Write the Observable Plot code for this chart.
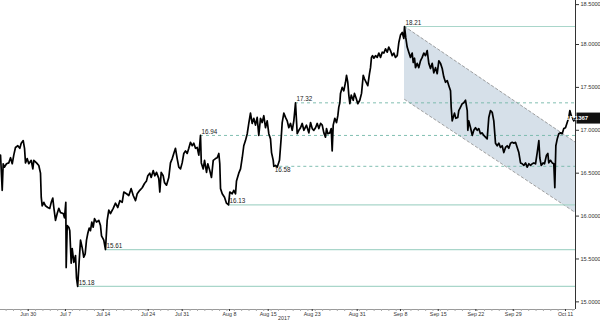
<!DOCTYPE html>
<html><head><meta charset="utf-8">
<script src="https://cdn.jsdelivr.net/npm/d3@7"></script>
<script src="https://cdn.jsdelivr.net/npm/@observablehq/plot@0.6"></script>
<style>
html,body{margin:0;padding:0;background:#fff;}
#chart svg{display:block;}
</style></head><body><div id="chart"></div>
<script>
// x = trading sessions counted from Jun 30, 2017
const sessionT = [
-3.76,-3.53,-3.40,-3.22,-2.95,-2.64,-2.40,-2.17,-1.96,-1.73,-1.41,-1.14,-0.95,-0.68,-0.50,-0.37,-0.14,0.08,0.41,0.63,0.76,1.13,1.44,1.67,1.77,1.90,2.12,2.35,2.66,2.93,3.13,3.34,3.48,3.71,3.94,4.16,4.39,4.76,4.93,5.11,5.16,5.30,5.52,5.65,5.84,5.98,6.20,6.43,6.56,6.72,6.93,7.11,7.34,7.55,7.74,7.92,8.10,8.29,8.46,8.64,8.83,9.01,9.28,9.59,9.82,9.96,10.27,10.50,10.73,10.95,11.18,11.55,11.86,12.17,12.45,12.77,12.99,13.36,13.67,13.99,14.27,14.58,14.81,15.16,15.49,15.80,16.07,16.25,16.52,16.71,16.98,17.20,17.43,17.74,17.88,18.07,18.34,18.52,18.79,19.10,19.33,19.57,19.78,20.01,20.24,20.46,20.69,20.92,21.14,21.37,21.60,21.82,22.05,22.28,22.50,22.73,22.96,23.18,23.41,23.52,23.78,23.96,24.23,24.40,24.67,24.90,25.14,25.45,25.68,25.90,26.03,26.13,26.36,26.67,26.94,27.22,27.39,27.72,27.93,28.17,28.30,28.61,28.85,29.08,29.29,29.52,29.76,29.97,30.20,30.43,30.65,30.88,31.11,31.33,31.56,31.79,32.01,32.24,32.47,32.69,32.92,33.06,33.29,33.37,33.60,33.83,34.14,34.38,34.51,34.73,34.96,35.19,35.41,35.64,35.87,36.09,36.32,36.55,36.77,37.00,37.23,37.45,37.81,38.13,38.36,38.59,38.81,39.04,39.27,39.49,39.72,39.95,40.17,40.39,40.53,40.71,40.98,41.17,41.30,41.44,41.66,41.89,42.07,42.20,42.34,42.43,42.66,42.88,43.11,43.25,43.42,43.56,43.70,43.89,44.16,44.33,44.57,44.78,45.05,45.29,45.52,45.69,45.92,46.14,46.37,46.51,46.64,46.78,46.96,47.19,47.42,47.64,47.87,48.10,48.32,48.55,48.78,48.99,49.22,49.46,49.67,49.90,50.14,50.35,50.58,50.82,51.03,51.13,51.30,51.49,51.71,51.94,52.17,52.31,52.49,52.62,52.85,53.07,53.30,53.53,53.75,53.98,54.21,54.43,54.66,54.89,55.11,55.34,55.57,55.79,56.02,56.25,56.47,56.70,56.93,57.15,57.38,57.47,57.61,57.74,57.92,58.10,58.37,58.50,58.74,58.97,59.18,59.42,59.65,59.73,59.86,60.10,60.33,60.54,60.77,61.01,61.22,61.45,61.68,61.90,62.13,62.36,62.58,62.81,63.04,63.26,63.49,63.72,63.94,64.17,64.40,64.62,64.85,65.08,65.30,65.53,65.76,65.98,66.21,66.44,66.66,66.89,67.12,67.34,67.57,67.80,68.02,68.25,68.48,68.70,68.93,69.16,69.38,69.51,69.70,69.97,70.15,70.42,70.60,70.73,70.96,71.20,71.41,71.55,71.69,71.88,72.09,72.32,72.55,72.77,73.00,73.23,73.45,73.59,73.78,73.96,74.13,74.30
];
const price = [
16.71,16.30,16.61,16.57,16.61,16.62,16.68,16.61,16.71,16.80,16.82,16.79,16.85,16.88,16.79,16.62,16.67,16.61,16.65,16.55,16.65,16.62,16.59,16.50,16.22,16.12,16.16,16.12,16.10,16.09,16.16,16.21,16.10,15.95,16.03,16.09,16.04,16.03,15.98,16.16,15.40,15.89,15.87,15.83,15.45,15.62,15.46,15.54,15.28,15.18,15.48,15.72,15.63,15.52,15.56,15.72,15.80,15.86,15.83,15.93,15.87,15.97,15.93,15.95,15.89,15.77,15.72,15.61,15.95,16.07,16.03,16.09,16.15,16.10,16.18,16.16,16.28,16.26,16.24,16.32,16.24,16.18,16.26,16.30,16.33,16.38,16.41,16.47,16.50,16.45,16.53,16.47,16.51,16.44,16.28,16.51,16.47,16.39,16.36,16.45,16.62,16.67,16.73,16.79,16.67,16.57,16.55,16.62,16.73,16.76,16.73,16.79,16.86,16.82,16.85,16.79,16.80,16.71,16.94,16.62,16.55,16.65,16.51,16.61,16.53,16.45,16.65,16.67,16.68,16.73,16.61,16.32,16.26,16.22,16.15,16.13,16.28,16.26,16.30,16.26,16.41,16.50,16.55,16.68,16.82,16.88,16.96,17.08,17.20,17.08,17.14,17.06,17.15,16.94,17.14,17.09,17.17,17.03,17.11,16.96,16.90,16.74,16.65,16.58,16.59,16.57,16.65,16.92,17.09,17.20,17.15,17.11,17.03,17.08,17.00,17.11,17.32,16.96,17.00,17.03,17.08,17.00,17.06,16.97,17.09,17.02,17.00,17.03,17.08,17.02,17.08,17.06,16.97,16.92,17.02,16.96,16.97,17.02,16.76,17.06,17.14,17.09,17.17,17.27,17.32,17.43,17.50,17.46,17.56,17.64,17.56,17.41,17.31,17.41,17.35,17.43,17.37,17.31,17.35,17.43,17.64,17.60,17.56,17.52,17.66,17.73,17.85,17.87,17.84,17.87,17.85,17.90,17.85,17.91,17.90,17.95,17.91,17.97,17.93,17.87,17.90,17.85,17.87,18.02,18.11,18.14,18.07,18.21,18.08,17.97,17.91,17.85,17.90,17.79,17.84,17.73,17.78,17.73,17.81,17.85,17.90,17.87,17.93,17.78,17.72,17.78,17.67,17.73,17.66,17.81,17.78,17.72,17.62,17.56,17.58,17.52,17.46,17.27,17.11,17.15,17.20,17.14,17.15,17.23,17.27,17.31,17.32,17.35,17.23,17.00,17.11,17.03,16.94,17.00,17.03,17.00,17.02,16.96,16.97,16.94,16.92,16.90,17.15,17.23,17.21,17.11,16.85,16.82,16.85,16.80,16.82,16.74,16.80,16.82,16.79,16.85,16.86,16.85,16.86,16.80,16.74,16.62,16.61,16.59,16.62,16.57,16.61,16.59,16.61,16.62,16.61,16.74,16.88,16.68,16.59,16.62,16.61,16.71,16.73,16.62,16.65,16.62,16.61,16.33,16.82,16.90,16.96,16.97,16.96,17.02,17.03,17.09,17.15,17.23,17.17,17.14,17.11,17.1367
];
const xTickPos = [0, 5.07, 10.19, 16.30, 20.92, 27.35, 32.61, 38.59, 44.70, 50.58, 55.71, 60.82, 65.90, 73.0];
const xTickLabels = ["Jun 30","Jul 7","Jul 14","Jul 24","Jul 31","Aug 8","Aug 15","Aug 23","Aug 31","Sep 8","Sep 15","Sep 22","Sep 29","Oct 11"];
const yTicks = [15, 15.5, 16, 16.5, 17, 17.5, 18, 18.5];
const yearLabel = "2017";
const levelValues = [18.21, 17.32, 16.94, 16.58, 16.13, 15.61, 15.18];
const levelStarts = [51.13, 36.32, 23.41, 33.37, 27.22, 10.50, 6.72];
const dashedLevels = [17.32, 16.94, 16.58];
const channelT = [51.13, 74.36];
const channelUpper = [18.21, 16.86];
const channelLower = [17.36, 16.04];

const W = 600, H = 323;
const xDomain = [-3.764, 74.36];
const yDomain = [14.911, 18.513];
const lastValue = price[price.length - 1];

const series = sessionT.map((t, i) => ({t, v: price[i]}));
const levels = levelValues.map((v, i) => ({v, start: levelStarts[i], end: xDomain[1], dashed: dashedLevels.includes(v)}));
const chan = channelT.map((t, i) => ({t, hi: channelUpper[i], lo: channelLower[i]}));
const labelMap = new Map(xTickPos.map((p, i) => [p, xTickLabels[i]]));
const font = "'Liberation Sans', Arial, sans-serif";
const topTick = yTicks[yTicks.length - 1];

const chart = Plot.plot({
  width: W, height: H,
  marginLeft: 0, marginRight: 25, marginTop: 0, marginBottom: 14,
  x: {type: "linear", domain: xDomain},
  y: {type: "linear", domain: yDomain},
  style: {fontFamily: font, background: "#fff", overflow: "visible"},
  marks: [
    Plot.areaY(chan, {x: "t", y1: "lo", y2: "hi", fill: "#d6e0e9"}),
    Plot.line(chan, {x: "t", y: "hi", stroke: "#8c8c8c", strokeWidth: 0.8, strokeDasharray: "2.5,2.5"}),
    Plot.line(chan, {x: "t", y: "lo", stroke: "#8c8c8c", strokeWidth: 0.8, strokeDasharray: "2.5,2.5"}),
    Plot.ruleY(levels.filter(d => !d.dashed), {y: "v", x1: "start", x2: "end", stroke: "#a9d6ca", strokeWidth: 1.2}),
    Plot.ruleY(levels.filter(d => d.dashed), {y: "v", x1: "start", x2: "end", stroke: "#74b8a8", strokeWidth: 0.9, strokeDasharray: "3,3"}),
    Plot.ruleY([yDomain[0]], {stroke: "#9a9a9a", strokeWidth: 1}),
    Plot.ruleX([xDomain[1]], {stroke: "#333", strokeWidth: 1}),
    Plot.axisX(d3.range(-3, 75), {tickSize: 2, tickFormat: () => "", stroke: "#aaa"}),
    Plot.axisX(xTickPos, {tickSize: 2, tickPadding: 1, tickFormat: d => labelMap.get(d), fontSize: 5.3, color: "#333"}),
    Plot.axisY(yTicks.filter(d => d !== topTick), {anchor: "right", tickSize: 3, tickPadding: 2, tickFormat: d => d.toFixed(4), fontSize: 5.6, color: "#333"}),
    Plot.axisY([topTick], {anchor: "right", tickSize: 3, tickPadding: 2, tickFormat: d => d.toFixed(4), fontSize: 5.6, color: "#333", dy: 3}),
    Plot.line(series, {x: "t", y: "v", stroke: "#000", strokeWidth: 1.7, strokeLinejoin: "round"}),
    Plot.text(levels.filter(d => d.v !== 16.58), {x: "start", y: "v", text: d => d.v.toFixed(2), textAnchor: "start", dx: 1, dy: -3.5, fontSize: 6.3, fill: "#222"}),
    Plot.text(levels.filter(d => d.v === 16.58), {x: "start", y: "v", text: d => d.v.toFixed(2), textAnchor: "start", dx: 1, dy: 4, fontSize: 6.3, fill: "#222"}),
    Plot.text([yearLabel], {frameAnchor: "bottom", dy: 10, dx: -4, fontSize: 5.3, fill: "#333"})
  ]
});

// last-value tag on the right axis
const sy = chart.scale("y"), sx = chart.scale("x");
const yy = sy.apply(lastValue);
const x0 = sx.range[1] + 1.5;
const g = d3.select(chart).append("g");
g.append("rect").attr("x", x0).attr("y", yy - 5.5).attr("width", W - x0).attr("height", 11).attr("fill", "#111");
g.append("text").attr("x", x0 + 0.8).attr("y", yy).attr("dy", "0.35em")
  .attr("fill", "#fff").attr("font-size", 6).attr("font-weight", "bold").attr("font-family", font)
  .attr("textLength", W - x0 - 1.6).attr("lengthAdjust", "spacingAndGlyphs")
  .text(lastValue.toFixed(4));

document.getElementById("chart").appendChild(chart);
</script></body></html>
